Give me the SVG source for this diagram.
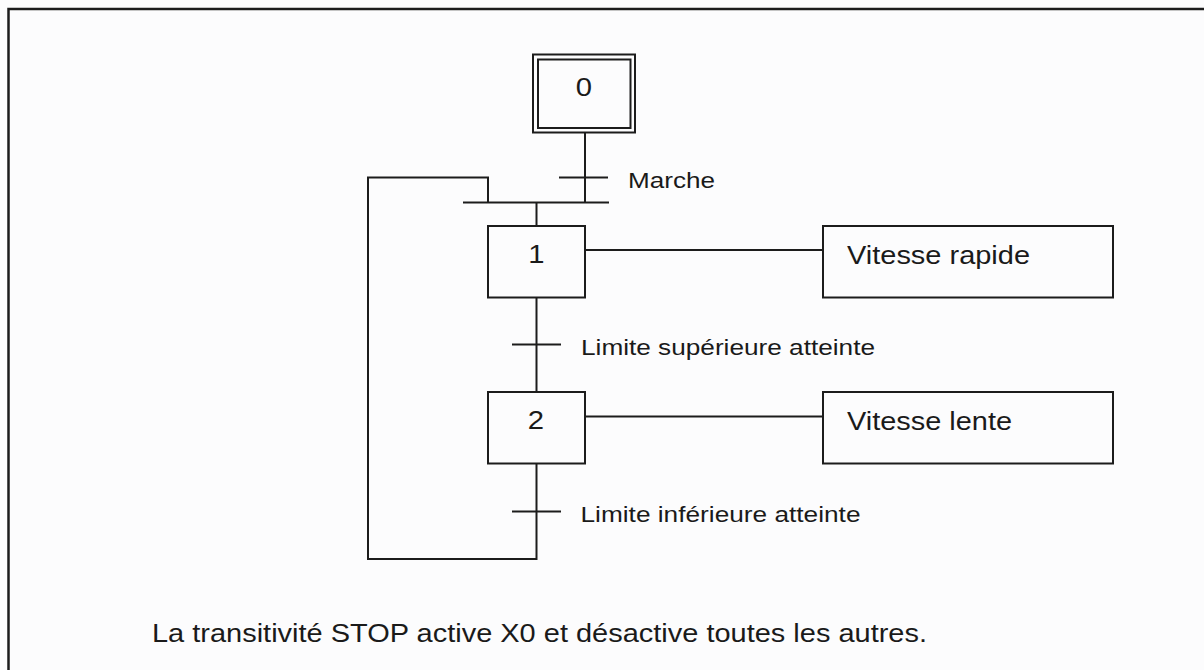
<svg xmlns="http://www.w3.org/2000/svg" width="1204" height="670" viewBox="0 0 1204 670">
  <style>
    .ln { stroke: #1c1c1c; stroke-width: 2; fill: none; }
    .box { stroke: #1c1c1c; stroke-width: 2; fill: none; }
    .t { font-family: "Liberation Sans", Arial, sans-serif; fill: #1a1a1a; }
    .lbl { font-size: 22px; }
    .act { font-size: 25px; }
    .num { font-size: 25px; text-anchor: middle; }
  </style>
  <rect x="0" y="0" width="1204" height="670" fill="#fcfcfd"/>
  <path d="M8.5,670 V9 H1204" fill="none" stroke="#1c1c1c" stroke-width="2.5"/>

  <g id="connectors">
    <line class="ln" x1="585" y1="133" x2="585" y2="202"/>
    <line class="ln" x1="559" y1="177.5" x2="608" y2="177.5"/>
    <line class="ln" x1="463" y1="202.5" x2="609" y2="202.5"/>
    <line class="ln" x1="536.5" y1="202" x2="536.5" y2="226"/>
    <line class="ln" x1="536.5" y1="297.5" x2="536.5" y2="392"/>
    <line class="ln" x1="512" y1="344.5" x2="561" y2="344.5"/>
    <line class="ln" x1="585" y1="250" x2="823" y2="250"/>
    <line class="ln" x1="585" y1="416.5" x2="823" y2="416.5"/>
    <polyline class="ln" points="536.5,463.5 536.5,559 368,559 368,177.5 488,177.5 488,202"/>
    <line class="ln" x1="512" y1="511.5" x2="561" y2="511.5"/>
  </g>

  <g id="step0">
    <rect class="box" x="533" y="54.5" width="102" height="78"/>
    <rect class="box" x="538" y="59.5" width="92.5" height="68.5"/>
    <text class="t num" transform="translate(584,96) scale(1.17,1)">0</text>
  </g>
  <g id="transition-marche">
    <text class="t lbl" x="628" y="188" textLength="87" lengthAdjust="spacingAndGlyphs">Marche</text>
  </g>
  <g id="step1">
    <rect class="box" x="488" y="226" width="97" height="71.5"/>
    <text class="t num" transform="translate(536.5,262.5) scale(1.17,1)">1</text>
  </g>
  <g id="action1">
    <rect class="box" x="823" y="226" width="290" height="71.5"/>
    <text class="t act" x="847" y="264" textLength="183" lengthAdjust="spacingAndGlyphs">Vitesse rapide</text>
  </g>
  <g id="transition-sup">
    <text class="t lbl" x="581" y="354.5" textLength="294" lengthAdjust="spacingAndGlyphs">Limite supérieure atteinte</text>
  </g>
  <g id="step2">
    <rect class="box" x="488" y="392" width="97" height="71.5"/>
    <text class="t num" transform="translate(536,428.5) scale(1.17,1)">2</text>
  </g>
  <g id="action2">
    <rect class="box" x="823" y="392" width="290" height="71.5"/>
    <text class="t act" x="847" y="430" textLength="165" lengthAdjust="spacingAndGlyphs">Vitesse lente</text>
  </g>
  <g id="transition-inf">
    <text class="t lbl" x="580.5" y="521.5" textLength="280" lengthAdjust="spacingAndGlyphs">Limite inférieure atteinte</text>
  </g>
  <g id="note">
    <text class="t act" x="152" y="641.5" textLength="775" lengthAdjust="spacingAndGlyphs">La transitivité STOP active X0 et désactive toutes les autres.</text>
  </g>
</svg>
